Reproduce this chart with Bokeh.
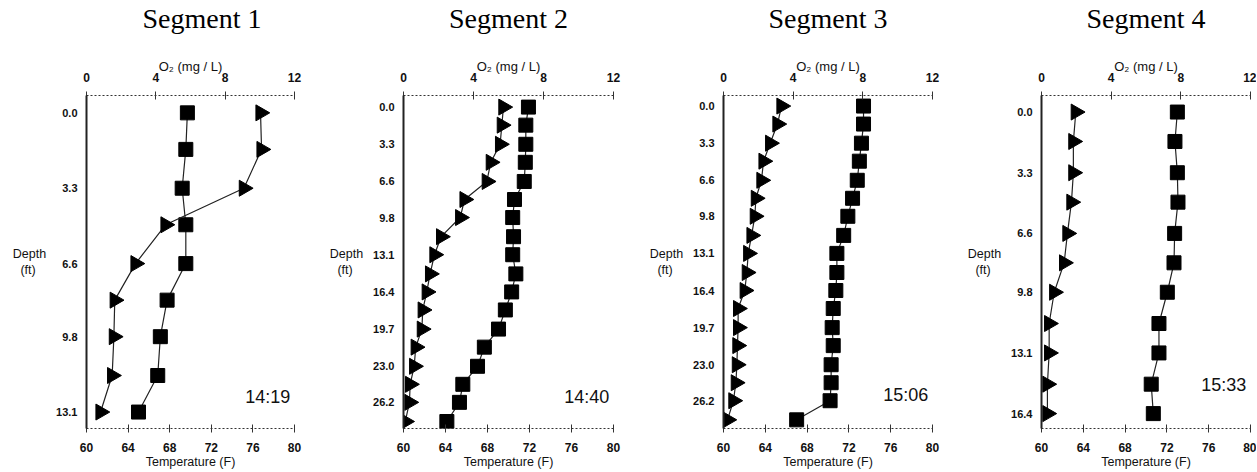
import numpy as np
from bokeh.plotting import figure
from bokeh.models import Range1d, LinearAxis, FixedTicker, PrintfTickFormatter, Label
from bokeh.layouts import row
from bokeh.embed import file_html
from bokeh.resources import INLINE

# ---------------- data ----------------
titles = ["Segment 1", "Segment 2", "Segment 3", "Segment 4"]
stamps = ["14:19", "14:40", "15:06", "15:33"]

depth_9 = [0.0, 1.6, 3.3, 4.9, 6.6, 8.2, 9.8, 11.5, 13.1]
depth_18 = [0.0, 1.6, 3.3, 4.9, 6.6, 8.2, 9.8, 11.5, 13.1, 14.8, 16.4, 18.0,
            19.7, 21.3, 23.0, 24.6, 26.2, 27.9]
depth_11 = [0.0, 1.6, 3.3, 4.9, 6.6, 8.2, 9.8, 11.5, 13.1, 14.8, 16.4]

seg1_temp = [69.7, 69.55, 69.2, 69.55, 69.55, 67.75, 67.1, 66.85, 65.0]
seg1_o2 = [10.04, 10.1, 9.08, 4.56, 2.83, 1.63, 1.58, 1.48, 0.81]

seg2_temp = [71.9, 71.65, 71.65, 71.6, 71.5, 70.57, 70.4, 70.48, 70.4, 70.7,
             70.3, 69.7, 69.05, 67.7, 67.05, 65.65, 65.33, 64.13]
seg2_o2 = [5.71, 5.62, 5.52, 4.99, 4.76, 3.49, 3.24, 2.15, 1.77, 1.52,
           1.33, 1.10, 1.05, 0.70, 0.61, 0.38, 0.34, 0.10]

seg3_temp = [73.4, 73.4, 73.2, 73.0, 72.8, 72.35, 71.9, 71.5, 70.85, 70.85,
             70.75, 70.5, 70.4, 70.5, 70.3, 70.3, 70.2, 67.0]
seg3_o2 = [3.33, 3.10, 2.68, 2.30, 2.18, 1.86, 1.80, 1.61, 1.42, 1.34,
           1.22, 0.84, 0.84, 0.80, 0.77, 0.71, 0.57, 0.23]

seg4_temp = [73.0, 72.77, 73.0, 73.06, 72.74, 72.68, 72.04, 71.24, 71.24, 70.5, 70.7]
seg4_o2 = [1.97, 1.83, 1.83, 1.72, 1.49, 1.30, 0.73, 0.44, 0.44, 0.34, 0.34]

depth_ticks_long = [0.0, 3.3, 6.6, 9.8, 13.1, 16.4, 19.7, 23.0, 26.2]
depth_ticks_s1 = [0.0, 3.3, 6.6, 9.8, 13.1]
depth_ticks_s4 = [0.0, 3.3, 6.6, 9.8, 13.1, 16.4]
temp_ticks = [60, 64, 68, 72, 76, 80]
o2_ticks = [0, 4, 8, 12]

FONT = "Liberation Sans"
AXC = "#333333"
FRAME_H = 333


def style_axis(ax, size="11px"):
    ax.major_label_text_font = FONT
    ax.major_label_text_font_style = "bold"
    ax.major_label_text_font_size = size
    ax.major_label_text_color = "#111111"
    ax.axis_label_text_font = FONT
    ax.axis_label_text_font_style = "normal"
    ax.axis_label_text_font_size = "12px"
    ax.axis_label_text_color = "#111111"
    ax.minor_tick_line_color = None


def panel(title, stamp, depth, temp, o2, yr, dticks, stamp_y, left, fw, right,
          title_offset=None):
    p = figure(frame_width=fw, frame_height=FRAME_H,
               min_border_left=left, min_border_right=right,
               min_border_top=95, min_border_bottom=43,
               x_range=Range1d(60, 80), y_range=Range1d(yr[1], yr[0]),
               x_axis_location=None, y_axis_location=None,
               output_backend="svg", toolbar_location=None, title=title)
    p.extra_x_ranges = {"o2": Range1d(0, 12)}
    p.outline_line_color = None
    p.xgrid.visible = False
    p.ygrid.visible = False
    p.background_fill_color = "white"
    p.border_fill_color = "white"
    p.title.text_font = "Liberation Serif"
    p.title.text_font_style = "normal"
    p.title.text_font_size = "28px"
    p.title.text_color = "black"
    p.title.standoff = 0
    if title_offset is None:
        p.title.align = "center"
    else:
        p.title.align = "left"
        p.title.offset = title_offset

    la = LinearAxis(ticker=FixedTicker(ticks=dticks),
                    formatter=PrintfTickFormatter(format="%.1f"),
                    axis_label="Depth\n(ft)\u00a0\u00a0\u00a0")
    style_axis(la)
    la.axis_label_text_font_size = "12.5px"
    la.axis_label_orientation = "horizontal"
    la.axis_line_color = "#222222"
    la.axis_line_width = 2
    la.major_tick_line_color = None
    la.major_tick_in = 0
    la.major_tick_out = 0
    la.major_label_standoff = 9
    la.axis_label_standoff = 7
    p.add_layout(la, "left")

    ba = LinearAxis(ticker=FixedTicker(ticks=temp_ticks), axis_label="Temperature (F)")
    style_axis(ba, "12px")
    ba.axis_label_text_font_size = "12.5px"
    ba.axis_line_color = AXC
    ba.axis_line_dash = "2 2"
    ba.major_tick_line_color = AXC
    ba.major_tick_in = 4
    ba.major_tick_out = 4
    ba.major_label_standoff = 10
    ba.axis_label_standoff = 0
    p.add_layout(ba, "below")

    ta = LinearAxis(x_range_name="o2", ticker=FixedTicker(ticks=o2_ticks),
                    axis_label="O\u2082 (mg / L)")
    style_axis(ta, "12px")
    ta.axis_label_text_font_size = "13px"
    ta.axis_line_color = AXC
    ta.axis_line_dash = "2 2"
    ta.major_tick_line_color = AXC
    ta.major_tick_in = 4
    ta.major_tick_out = 4
    ta.major_label_standoff = 10
    ta.axis_label_standoff = -4
    p.add_layout(ta, "above")

    # empty spacer between the O2 axis and the panel title
    sp = LinearAxis(x_range_name="o2", ticker=FixedTicker(ticks=[]),
                    axis_label="\u00a0")
    sp.axis_line_color = None
    sp.major_tick_line_color = None
    sp.minor_tick_line_color = None
    sp.major_tick_in = 0
    sp.major_tick_out = 0
    sp.major_label_standoff = 0
    sp.axis_label_text_font_size = "10px"
    sp.axis_label_standoff = 8
    p.add_layout(sp, "above")

    p.line(temp, depth, line_color="#222222", line_width=1.2)
    p.scatter(temp, depth, marker="square", size=14, fill_color="black",
              line_color="black")
    p.line(o2, depth, x_range_name="o2", line_color="#222222", line_width=1.2)
    p.scatter(o2, depth, x_range_name="o2", marker="triangle", angle=-np.pi / 2,
              size=16, fill_color="black", line_color="black")

    p.add_layout(Label(x=79.6, y=stamp_y, text=stamp, text_align="right",
                       text_baseline="middle", text_font=FONT,
                       text_font_size="18px", text_color="#111111"))
    return p


p1 = panel(titles[0], stamps[0], depth_9, seg1_temp, seg1_o2, (-0.76, 13.82),
           depth_ticks_s1, 12.46, 86, 208, 24, title_offset=56)
p2 = panel(titles[1], stamps[1], depth_18, seg2_temp, seg2_o2, (-1.03, 28.52),
           depth_ticks_long, 25.7, 85, 210, 25)
p3 = panel(titles[2], stamps[2], depth_18, seg3_temp, seg3_o2, (-0.94, 28.67),
           depth_ticks_long, 25.68, 85, 209, 26)
p4 = panel(titles[3], stamps[3], depth_11, seg4_temp, seg4_o2, (-0.9, 17.21),
           depth_ticks_s4, 14.85, 83, 209, 6)

layout = row(p1, p2, p3, p4)
open("out.html", "w").write(file_html(layout, INLINE))
